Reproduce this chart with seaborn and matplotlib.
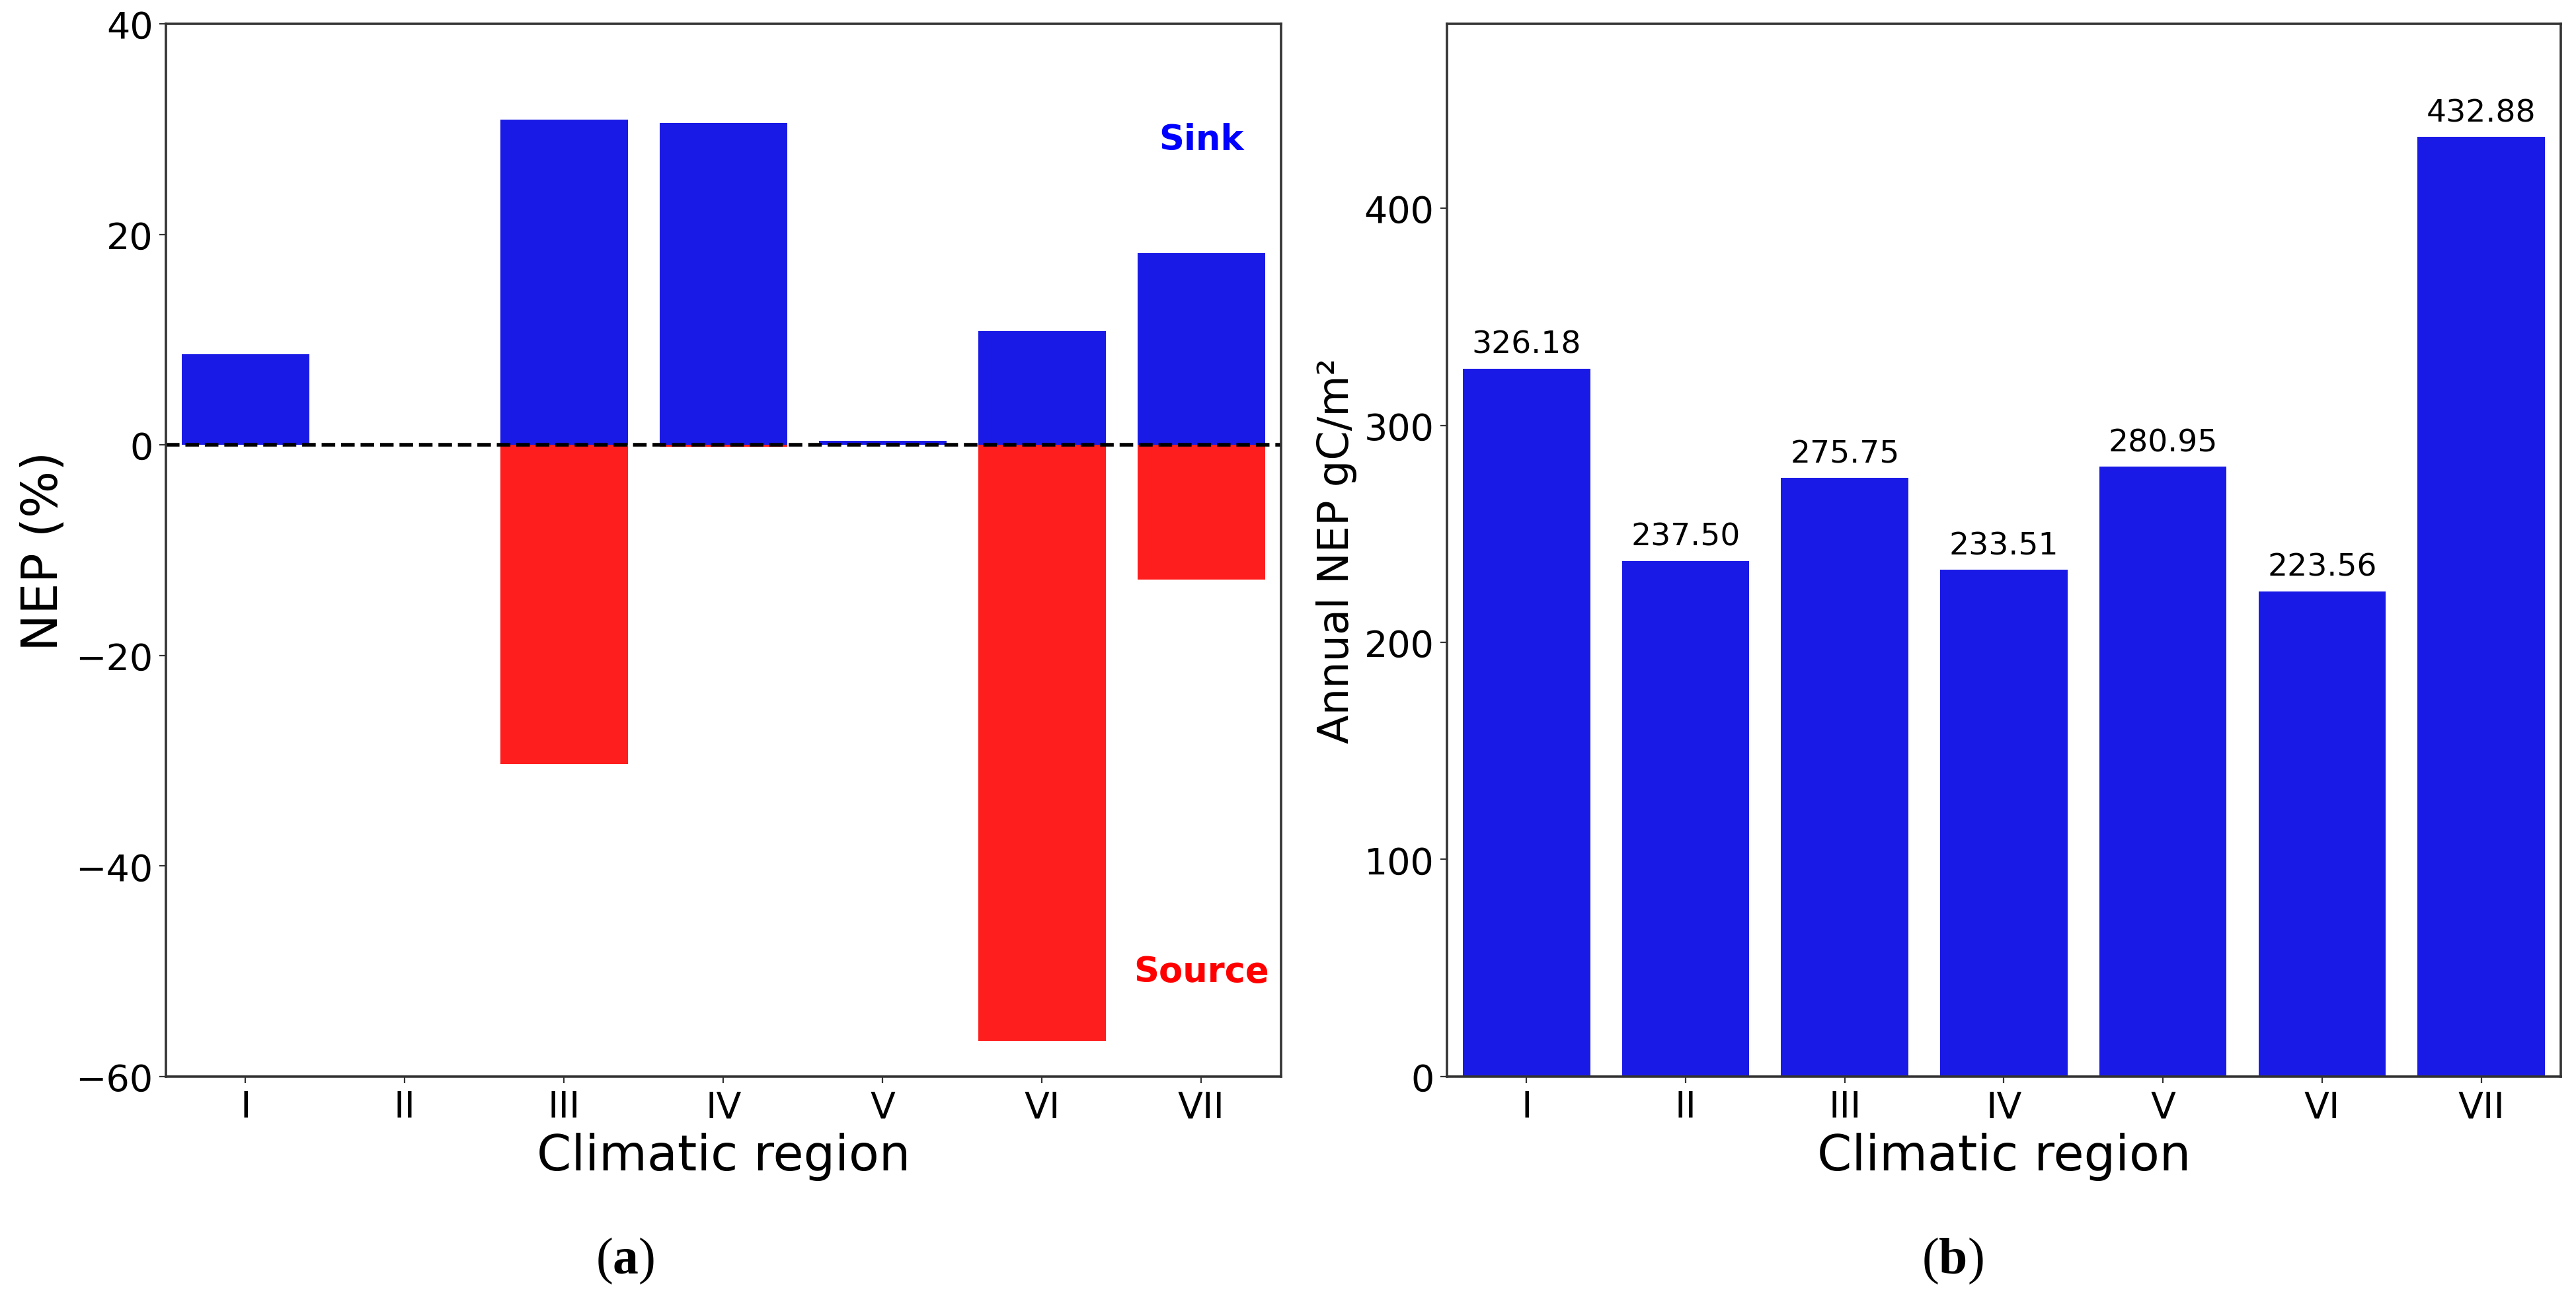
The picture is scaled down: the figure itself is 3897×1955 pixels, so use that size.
import matplotlib
matplotlib.use("Agg")
import matplotlib.pyplot as plt
import seaborn as sns

# -----------------------------
# Data
# -----------------------------
regions = ["I", "II", "III", "IV", "V", "VI", "VII"]

# (a) share of area acting as sink / source (%)
sink_pct = [8.6, 0.0, 30.9, 30.6, 0.4, 10.8, 18.2]
source_pct = [0.0, 0.0, -30.3, -0.2, 0.0, -56.6, -12.8]

# (b) annual NEP per region
annual_nep = [326.18, 237.50, 275.75, 233.51, 280.95, 223.56, 432.88]

blue = "#1a1ae6"
red = "#ff1e1e"

# -----------------------------
# Style
# -----------------------------
sns.set_style("ticks", {"axes.edgecolor": "0.2", "xtick.color": "0.2",
                        "ytick.color": "0.2", "text.color": "black",
                        "axes.labelcolor": "black"})
plt.rcParams["font.family"] = ["DejaVu Sans"]
plt.rcParams["axes.linewidth"] = 1.3
plt.rcParams["xtick.labelcolor"] = "black"
plt.rcParams["ytick.labelcolor"] = "black"
plt.rcParams["mathtext.fontset"] = "custom"
plt.rcParams["mathtext.rm"] = "Liberation Serif"
plt.rcParams["mathtext.bf"] = "Liberation Serif:bold"

fig = plt.figure(figsize=(19.485, 9.78), dpi=200)
ax1 = fig.add_axes([0.0644, 0.1667, 0.4329, 0.8144])
ax2 = fig.add_axes([0.5617, 0.1667, 0.4324, 0.8144])

# -----------------------------
# Panel (a)
# -----------------------------
sns.barplot(x=regions, y=sink_pct, color=blue, saturation=1,
            linewidth=0, ax=ax1)
sns.barplot(x=regions, y=source_pct, color=red, saturation=1,
            linewidth=0, ax=ax1)
ax1.axhline(0, color="black", linestyle="--", linewidth=2)
ax1.set_ylim(-60, 40)
ax1.set_yticks([-60, -40, -20, 0, 20, 40])
ax1.set_xlim(-0.5, len(regions) - 0.5)
ax1.text(6, 29, "Sink", color="blue", fontsize=19, fontweight="bold",
         ha="center", va="center")
ax1.text(6, -50, "Source", color="red", fontsize=19, fontweight="bold",
         ha="center", va="center")
ax1.set_xlabel("Climatic region", fontsize=27)
ax1.set_ylabel("NEP (%)", fontsize=27)
ax1.tick_params(labelsize=20)

# -----------------------------
# Panel (b)
# -----------------------------
sns.barplot(x=regions, y=annual_nep, color=blue, saturation=1,
            linewidth=0, ax=ax2)
ax2.bar_label(ax2.containers[0], fmt="%.2f", padding=5, fontsize=17)
ax2.set_ylim(0, 485)
ax2.set_yticks([0, 100, 200, 300, 400])
ax2.set_xlim(-0.5, len(regions) - 0.5)
ax2.set_xlabel("Climatic region", fontsize=27)
ax2.set_ylabel("Annual NEP gC/m²", fontsize=23)
ax2.tick_params(labelsize=20)

# sub-figure captions
fig.text(0.2427, 0.0245, r"($\mathbf{a}$)", family="Liberation Serif",
         fontsize=28, ha="center", va="center")
fig.text(0.758, 0.0245, r"($\mathbf{b}$)", family="Liberation Serif",
         fontsize=28, ha="center", va="center")

plt.savefig("out.png", dpi=200)
